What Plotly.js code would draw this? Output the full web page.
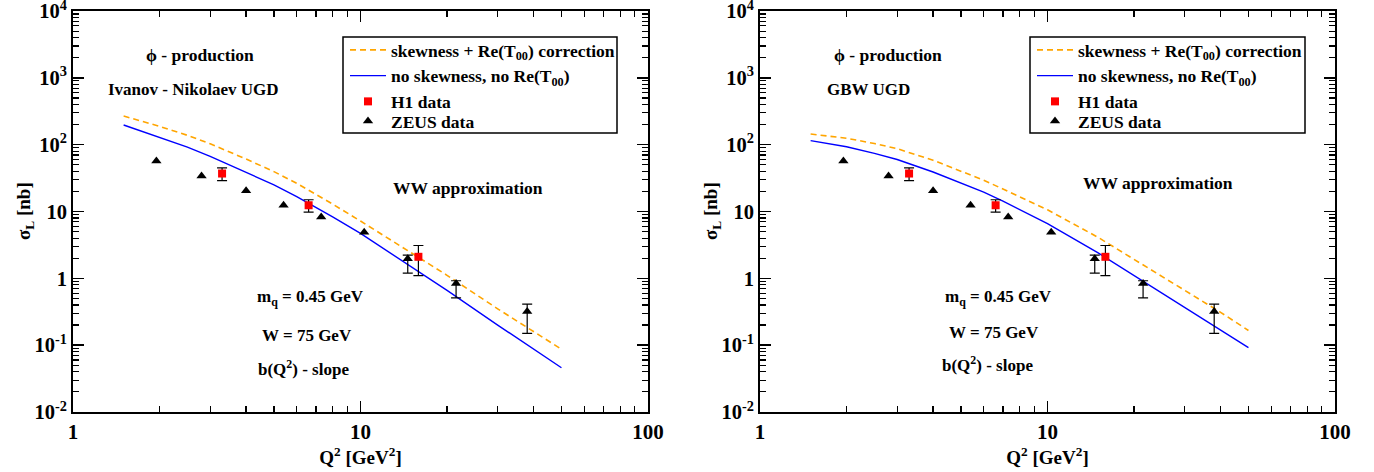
<!DOCTYPE html>
<html>
<head>
<meta charset="utf-8">
<script src="https://cdn.plot.ly/plotly-3.0.1.min.js"></script>
<style>
  html, body { margin: 0; padding: 0; background: #fff; }
  #chart { width: 1374px; height: 472px; }
</style>
</head>
<body>
<div id="chart"></div>
<script>
// Q^2 grid of the model curves [GeV^2]
const q2Grid = [1.5, 2, 2.5, 3, 4, 5, 6, 7, 8, 10, 15, 20, 30, 40, 50];

// Ivanov - Nikolaev UGD: sigma_L [nb]
const inSkew   = [268, 188, 138, 103, 61, 39.5, 26.4, 18.2, 12.9, 7.2, 2.4, 1.11, 0.35, 0.159, 0.087];
const inNoSkew = [197, 130, 92, 67, 39, 25, 16.7, 11.6, 8.3, 4.7, 1.5, 0.66, 0.2, 0.087, 0.046];

// GBW UGD: sigma_L [nb]
const gbwSkew   = [144, 125, 104, 87, 58.5, 40.5, 29.4, 21.7, 16.6, 10.6, 4.1, 1.93, 0.67, 0.31, 0.166];
const gbwNoSkew = [115, 93, 74, 60, 39, 27, 19.5, 14.3, 10.8, 6.6, 2.4, 1.1, 0.375, 0.173, 0.092];

// H1 data
const h1Q2  = [3.3, 6.6, 15.9];
const h1Sig = [37, 12.4, 2.1];
const h1Err = [8, 2.6, 1.0];

// ZEUS data (NaN: error smaller than the symbol)
const zeusQ2       = [1.95, 2.8, 4.0, 5.4, 7.3, 10.3, 14.6, 21.5, 38];
const zeusSig      = [57, 34, 20.5, 12.4, 8.3, 4.9, 1.97, 0.84, 0.32];
const zeusErrPlus  = [NaN, NaN, NaN, NaN, NaN, NaN, 0.26, 0.08, 0.09];
const zeusErrMinus = [NaN, NaN, NaN, NaN, NaN, NaN, 0.77, 0.33, 0.17];

// axis ticks
const xTickVals = [1, 10, 100];
const xTickText = ['<b>1</b>', '<b>10</b>', '<b>100</b>'];
const yTickVals = [0.01, 0.1, 1, 10, 100, 1000, 10000];
const yTickText = ['<b>10<sup>-2</sup></b>', '<b>10<sup>-1</sup></b>', '<b>1</b>', '<b>10</b>',
                   '<b>10<sup>2</sup></b>', '<b>10<sup>3</sup></b>', '<b>10<sup>4</sup></b>'];

// legend labels
const labelSkew   = '<b>skewness + Re(T<sub>00</sub>) correction</b>';
const labelNoSkew = '<b>no skewness, no Re(T<sub>00</sub>)</b>';
const labelH1     = '<b>H1 data</b>';
const labelZeus   = '<b>ZEUS data</b>';

const FONT = 'Liberation Serif, Times New Roman, serif';
const W = 1374, H = 472;
const px = v => v / W;
const py = v => 1 - v / H;

// the ZEUS entry sits in its own legend so that the last row can be placed tighter
function panelTraces(skew, noSkew, xa, ya, legendMain, legendZeus) {
  return [
    { x: q2Grid, y: skew, xaxis: xa, yaxis: ya, legend: legendMain, name: labelSkew,
      mode: 'lines', line: { color: '#FFA500', width: 1.6, dash: '6px,4px' } },
    { x: q2Grid, y: noSkew, xaxis: xa, yaxis: ya, legend: legendMain, name: labelNoSkew,
      mode: 'lines', line: { color: '#0000FF', width: 1.4 } },
    { x: h1Q2, y: h1Sig, xaxis: xa, yaxis: ya, legend: legendMain, name: labelH1,
      mode: 'markers', marker: { symbol: 'square', size: 8, color: '#FF0000' },
      error_y: { type: 'data', array: h1Err, color: '#000', thickness: 1.2, width: 5 } },
    { x: zeusQ2, y: zeusSig, xaxis: xa, yaxis: ya, legend: legendZeus, name: labelZeus,
      mode: 'markers', marker: { symbol: 'triangle-up', size: 9, color: '#000' },
      error_y: { type: 'data', symmetric: false, array: zeusErrPlus, arrayminus: zeusErrMinus,
                 color: '#000', thickness: 1.2, width: 5 } }
  ];
}

const data = [
  ...panelTraces(inSkew, inNoSkew, 'x', 'y', 'legend', 'legend3'),
  ...panelTraces(gbwSkew, gbwNoSkew, 'x2', 'y2', 'legend2', 'legend4')
];

function xAxis(domain, anchor) {
  return {
    type: 'log', range: [0, 2], domain: domain, anchor: anchor,
    showgrid: false, zeroline: false, showline: true, linecolor: '#000', linewidth: 2,
    mirror: 'allticks', ticks: 'inside', ticklen: 11, tickwidth: 1.5, tickcolor: '#000',
    tickmode: 'array', tickvals: xTickVals, ticktext: xTickText, ticklabeloverflow: 'allow',
    minor: { ticks: 'inside', ticklen: 6, tickwidth: 1.2, tickcolor: '#000', tickmode: 'linear', dtick: 'D1' },
    tickfont: { family: FONT, size: 21, color: '#000' },
    title: { text: '<b>Q<sup>2</sup> [GeV<sup>2</sup>]</b>', font: { family: FONT, size: 19, color: '#000' }, standoff: 4 }
  };
}
function yAxis(domain, anchor) {
  return {
    type: 'log', range: [-2, 4], domain: domain, anchor: anchor,
    showgrid: false, zeroline: false, showline: true, linecolor: '#000', linewidth: 2,
    mirror: 'allticks', ticks: 'inside', ticklen: 11, tickwidth: 1.5, tickcolor: '#000',
    tickmode: 'array', tickvals: yTickVals, ticktext: yTickText, ticklabeloverflow: 'allow',
    minor: { ticks: 'inside', ticklen: 6, tickwidth: 1.2, tickcolor: '#000', tickmode: 'linear', dtick: 'D1' },
    tickfont: { family: FONT, size: 20.5, color: '#000' }
  };
}

const yDom = [py(412), py(11)];

function note(text, x, y, anchor, size, angle) {
  return { text: text, xref: 'paper', yref: 'paper', x: px(x), y: py(y),
           xanchor: anchor || 'center', yanchor: 'middle', showarrow: false, textangle: angle || 0,
           font: { family: FONT, size: size || 17, color: '#000' } };
}

// legend entries on a transparent background; the framed box is a shape
function legendBox(x, top) {
  return { x: px(x), y: py(top), xanchor: 'left', yanchor: 'top', xref: 'paper', yref: 'paper',
           bgcolor: 'rgba(0,0,0,0)', borderwidth: 0, itemwidth: 36, tracegroupgap: 0,
           font: { family: FONT, size: 17.5, color: '#000' } };
}
function frame(x0, x1, y0, y1) {
  return { type: 'rect', xref: 'paper', yref: 'paper', x0: px(x0), x1: px(x1), y0: py(y0), y1: py(y1),
           layer: 'above', fillcolor: '#fff', line: { color: '#000', width: 1.5 } };
}

const sigmaTitle = '<b>σ<sub>L</sub> [nb]</b>';

const layout = {
  width: W, height: H,
  margin: { l: 0, r: 0, t: 0, b: 0 },
  paper_bgcolor: '#fff', plot_bgcolor: '#fff',
  font: { family: FONT, color: '#000' },
  showlegend: true,
  xaxis: xAxis([px(73), px(648)], 'y'),
  yaxis: yAxis(yDom, 'x'),
  xaxis2: xAxis([px(760), px(1335)], 'y2'),
  yaxis2: yAxis(yDom, 'x2'),
  legend: legendBox(345, 32),
  legend2: legendBox(1032, 32),
  legend3: legendBox(345, 103),
  legend4: legendBox(1032, 103),
  shapes: [frame(343, 617, 37, 133), frame(1030, 1305, 37, 133)],
  annotations: [
    note(sigmaTitle, 25, 211, 'center', 19, -90),
    note(sigmaTitle, 712, 211, 'center', 19, -90),
    note('<b>ϕ - production</b>', 200, 55, 'center', 17.5),
    note('<b>Ivanov - Nikolaev UGD</b>', 193, 90),
    note('<b>WW approximation</b>', 468, 188, 'center', 17.5),
    note('<b>m<sub>q</sub> = 0.45 GeV</b>', 255, 298, 'left'),
    note('<b>W = 75 GeV</b>', 260, 335, 'left'),
    note('<b>b(Q<sup>2</sup>) - slope</b>', 256, 368, 'left'),
    note('<b>ϕ - production</b>', 888, 55, 'center', 17.5),
    note('<b>GBW UGD</b>', 868, 90),
    note('<b>WW approximation</b>', 1158, 183, 'center', 17.5),
    note('<b>m<sub>q</sub> = 0.45 GeV</b>', 943, 298, 'left'),
    note('<b>W = 75 GeV</b>', 947, 332, 'left'),
    note('<b>b(Q<sup>2</sup>) - slope</b>', 940, 364, 'left')
  ]
};

Plotly.newPlot('chart', data, layout, { staticPlot: true, displayModeBar: false });
</script>
</body>
</html>
